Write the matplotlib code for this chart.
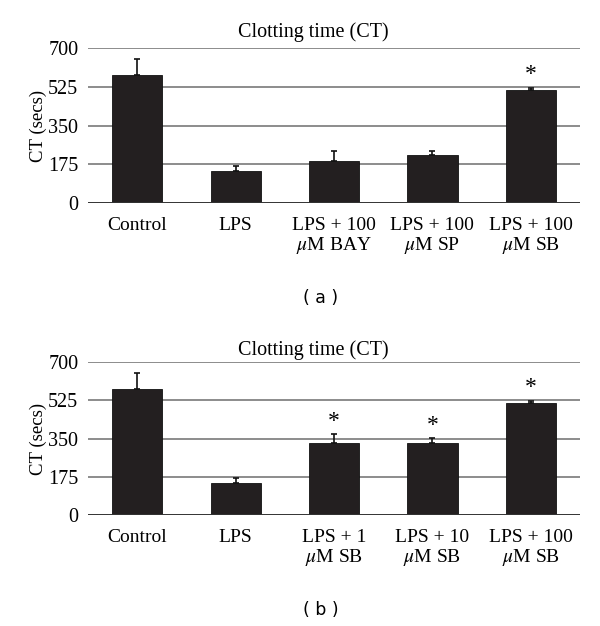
import matplotlib.pyplot as plt

plt.switch_backend('Agg')
plt.rcParams['font.family'] = ['Liberation Serif', 'DejaVu Serif']
plt.rcParams['mathtext.fontset'] = 'stix'

# panel (a)
cats_a = ['Control', 'LPS', 'LPS + 100\n$\\mu$M BAY', 'LPS + 100\n$\\mu$M SP',
          'LPS + 100\n$\\mu$M SB']
ct_a = [578, 146, 191, 217, 510]
err_a = [72, 21, 42, 20, 9]
sig_a = [False, False, False, False, True]

# panel (b)
cats_b = ['Control', 'LPS', 'LPS + 1\n$\\mu$M SB', 'LPS + 10\n$\\mu$M SB',
          'LPS + 100\n$\\mu$M SB']
ct_b = [576, 146, 331, 331, 512]
err_b = [75, 22, 38, 20, 11]
sig_b = [False, False, True, True, True]

yticks = [0, 175, 350, 525, 700]

BAR = '#231f20'
GRID = '#6e6e6e'
FS = 14


def drawPanel(ax, cats, vals, errs, sig):
    x = list(range(len(cats)))
    for y in yticks[1:]:
        ax.axhline(y, color = GRID, lw = 1.1, zorder = 0)
    ax.axhline(0, color = '#333333', lw = 1.4, zorder = 3)
    ax.bar(x, vals, width = 0.51, color = BAR, edgecolor = '#111111',
           lw = 0.6, zorder = 2)
    ax.errorbar(x, vals, yerr = [[0] * len(errs), errs], fmt = 'none',
                ecolor = '#111111', elinewidth = 1.2, capsize = 2.5,
                capthick = 1.2, zorder = 2)
    for xi, v, e, s in zip(x, vals, errs, sig):
        if s:
            ax.annotate('*', (xi, v + e), xytext = (0, 2), textcoords = 'offset points',
                        ha = 'center', va = 'bottom', fontsize = 17)
    ax.set_xlim(-0.5, len(cats) - 0.5)
    ax.set_ylim(0, 700)
    ax.set_yticks(yticks)
    ax.set_xticks(x)
    ax.set_xticklabels(cats, fontsize = FS, linespacing = 1.08)
    ax.tick_params(axis = 'y', length = 0, labelsize = 14.5, pad = 7)
    ax.tick_params(axis = 'x', length = 0, pad = 10)
    for sp in ax.spines.values():
        sp.set_visible(False)
    ax.set_ylabel('CT (secs)', fontsize = 13.5, labelpad = 1)
    ax.patch.set_alpha(0)


fig = plt.figure(figsize = (6.0, 6.26), dpi = 100)
ax1 = fig.add_axes([0.1467, 0.6757, 0.82, 0.2476])
ax2 = fig.add_axes([0.1467, 0.1773, 0.82, 0.2444])

drawPanel(ax1, cats_a, ct_a, err_a, sig_a)
drawPanel(ax2, cats_b, ct_b, err_b, sig_b)

fig.text(0.523, 1 - 32 / 626, 'Clotting time (CT)', ha = 'center', va = 'center',
         fontsize = 14.5)
fig.text(0.523, 1 - 350 / 626, 'Clotting time (CT)', ha = 'center', va = 'center',
         fontsize = 14.5)
fig.text(0.535, 1 - 298 / 626, '( a )', ha = 'center', va = 'center',
         fontsize = 12.5, family = 'DejaVu Sans')
fig.text(0.535, 1 - 610 / 626, '( b )', ha = 'center', va = 'center',
         fontsize = 12.5, family = 'DejaVu Sans')

fig.savefig('out.png', dpi = 100)
